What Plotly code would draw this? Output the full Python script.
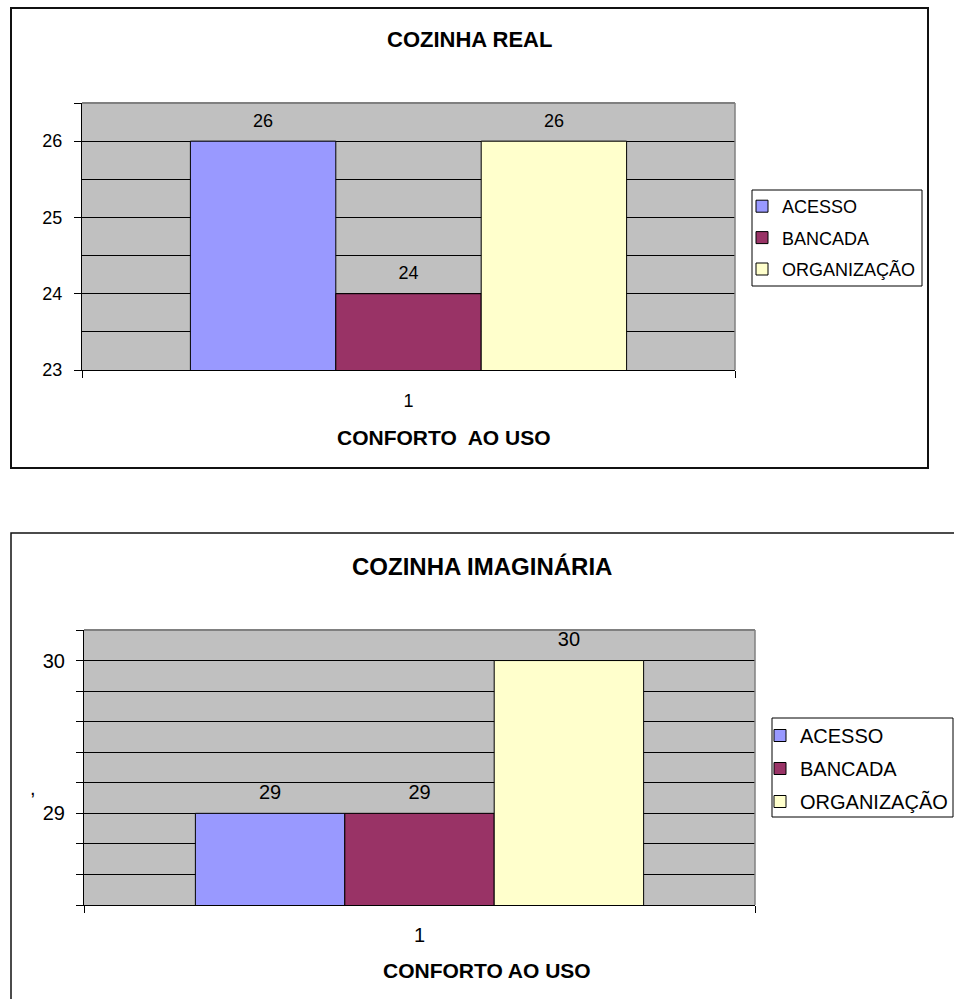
import numpy as np
import plotly.graph_objects as go

W, H = 954, 999
FONT = "Liberation Sans, Arial, sans-serif"

# ---- data ----
categories = ["1"]
series_names = ["ACESSO", "BANCADA", "ORGANIZAÇÃO"]
series_colors = ["#9999FF", "#993366", "#FFFFCC"]
real_values = [26, 24, 26]
imag_values = [29, 29, 30]

real_title = "COZINHA REAL"
imag_title = "COZINHA IMAGINÁRIA"
real_xtitle = "CONFORTO\u00a0 AO USO"
imag_xtitle = "CONFORTO AO USO"

real_tickvals = [23, 24, 25, 26, 26.5]
real_ticktext = ["23", "24", "25", "26", ""]
imag_tickvals = [28.4, 28.6, 28.8, 29.0, 29.2, 29.4, 29.6, 29.8, 30.0, 30.2]
imag_ticktext = ["", "", "", "29", "", "", "", "", "30", ""]


def px(x):
    return x / W


def py(y):
    return 1 - y / H


fig = go.Figure()

for i, (name, col) in enumerate(zip(series_names, series_colors)):
    fig.add_trace(go.Bar(
        x=categories, y=[real_values[i]], name=name, marker=dict(color=col, line=dict(color="#000", width=1)),
        xaxis="x", yaxis="y", legend="legend", legendgroup="r" + str(i), offsetgroup=str(i),
    ))
    fig.add_trace(go.Scatter(
        x=categories, y=[real_values[i]], mode="markers+text", text=[str(real_values[i])],
        marker=dict(size=14, color="rgba(0,0,0,0)"),
        textposition="top center", textfont=dict(size=18, color="#000", family=FONT),
        xaxis="x", yaxis="y", offsetgroup=str(i), showlegend=False, cliponaxis=False, hoverinfo="skip",
    ))

for i, (name, col) in enumerate(zip(series_names, series_colors)):
    fig.add_trace(go.Bar(
        x=categories, y=[imag_values[i]], name=name, marker=dict(color=col, line=dict(color="#000", width=1)),
        xaxis="x2", yaxis="y2", legend="legend2", legendgroup="i" + str(i), offsetgroup=str(i),
    ))
    fig.add_trace(go.Scatter(
        x=categories, y=[imag_values[i]], mode="markers+text", text=[str(imag_values[i])],
        marker=dict(size=14, color="rgba(0,0,0,0)"),
        textposition="top center", textfont=dict(size=20, color="#000", family=FONT),
        xaxis="x2", yaxis="y2", offsetgroup=str(i), showlegend=False, cliponaxis=False, hoverinfo="skip",
    ))

xcommon = dict(type="category", showgrid=False, showline=True, linecolor="#000", linewidth=1,
               ticks="outside", tickson="boundaries", ticklen=7, tickcolor="#000", zeroline=False)

fig.update_layout(
    width=W, height=H,
    margin=dict(l=0, r=0, t=0, b=0, autoexpand=False),
    paper_bgcolor="white",
    font=dict(family=FONT, color="#000"),
    barmode="group", bargap=0.332, bargroupgap=0,
    scattermode="group", scattergap=0.332,
    showlegend=True,
    xaxis=dict(xcommon, domain=[px(82), px(735)], anchor="y",
               tickfont=dict(size=18), ticklabelstandoff=14),
    yaxis=dict(domain=[py(370), py(103)], anchor="x", range=[23, 26.5],
               tickvals=real_tickvals, ticktext=real_ticktext, tickfont=dict(size=18),
               showline=True, linecolor="#000", linewidth=1, ticks="outside", ticklen=7, tickcolor="#000",
               showgrid=True, gridcolor="#000", gridwidth=1, zeroline=False, ticklabelstandoff=8,
               minor=dict(dtick=0.5, tick0=23, showgrid=True, gridcolor="#000", gridwidth=1, ticks="")),
    xaxis2=dict(xcommon, domain=[px(84), px(755)], anchor="y2",
                tickfont=dict(size=20), ticklabelstandoff=12),
    yaxis2=dict(domain=[py(905), py(630)], anchor="x2", range=[28.4, 30.2],
                tickvals=imag_tickvals, ticktext=imag_ticktext, tickfont=dict(size=20),
                showline=True, linecolor="#000", linewidth=1, ticks="outside", ticklen=7, tickcolor="#000",
                showgrid=True, gridcolor="#000", gridwidth=1, zeroline=False, ticklabelstandoff=7),
    plot_bgcolor="#C0C0C0",
    legend=dict(x=px(742), y=py(188), xanchor="left", yanchor="top", bgcolor="rgba(0,0,0,0)",
                borderwidth=0, font=dict(size=18, family=FONT),
                tracegroupgap=5, itemwidth=30, traceorder="grouped", itemclick=False),
    legend2=dict(x=px(760), y=py(716), xanchor="left", yanchor="top", bgcolor="rgba(0,0,0,0)",
                 borderwidth=0, font=dict(size=20, family=FONT),
                 tracegroupgap=4, itemwidth=30, traceorder="grouped", itemclick=False),
)

# chart frames
fig.add_shape(type="rect", xref="paper", yref="paper", x0=px(11), x1=px(928), y0=py(468), y1=py(8),
              line=dict(color="#111", width=2), layer="above")
fig.add_shape(type="rect", xref="paper", yref="paper", x0=px(11), x1=1.05, y0=-0.05, y1=py(533),
              line=dict(color="#111", width=1.5), layer="above")

# legend frames
fig.add_shape(type="rect", xref="paper", yref="paper", x0=px(752), x1=px(922), y0=py(286), y1=py(190),
              line=dict(color="#000", width=1), fillcolor="white", layer="above")
fig.add_shape(type="rect", xref="paper", yref="paper", x0=px(772), x1=px(953), y0=py(817), y1=py(718),
              line=dict(color="#000", width=1), fillcolor="white", layer="above")

# plot-area gray border (top & right)
for xr, yr in (("x domain", "y domain"), ("x2 domain", "y2 domain")):
    fig.add_shape(type="line", xref=xr, yref=yr, x0=0, x1=1, y0=1, y1=1,
                  line=dict(color="#808080", width=2), layer="above")
    fig.add_shape(type="line", xref=xr, yref=yr, x0=1, x1=1, y0=0, y1=1,
                  line=dict(color="#808080", width=1.5), layer="above")

ann = [
    dict(text="<b>" + real_title + "</b>", x=px(469), y=py(39), size=22),
    dict(text="<b>" + real_xtitle + "</b>", x=px(443.5), y=py(437.5), size=21),
    dict(text="<b>" + imag_title + "</b>", x=px(481.5), y=py(566), size=24),
    dict(text="<b>" + imag_xtitle + "</b>", x=px(487), y=py(970), size=21),
    dict(text=",", x=px(33), y=py(788), size=20),
]
for a in ann:
    fig.add_annotation(text=a["text"], x=a["x"], y=a["y"], xref="paper", yref="paper",
                       xanchor="center", yanchor="middle", showarrow=False,
                       font=dict(size=a["size"], family=FONT, color="#000"))

fig.write_html("out.html")
